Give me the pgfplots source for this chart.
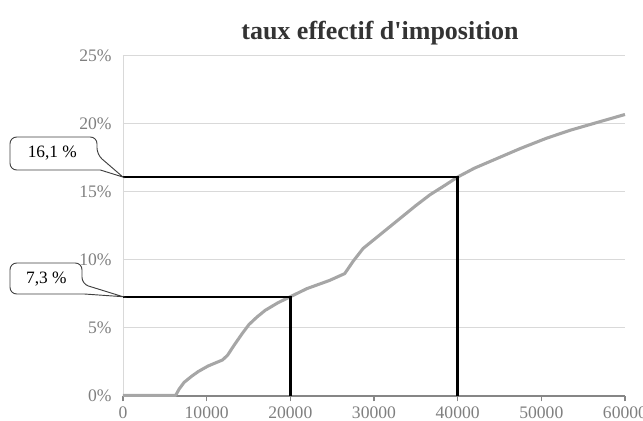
\documentclass[border=0pt]{standalone}
\usepackage{fontspec}
\setmainfont{Liberation Serif}
\usepackage{pgfplots}
\pgfplotsset{compat=1.18}
\definecolor{curvegray}{HTML}{A6A6A6}
\definecolor{gridgray}{HTML}{D9D9D9}
\definecolor{labgray}{HTML}{7F7F7F}
\definecolor{axgray}{HTML}{868686}
\definecolor{boxgray}{HTML}{404040}
\begin{document}
\begin{tikzpicture}
\useasboundingbox (-92.25pt,-18.75pt) rectangle (390pt,297pt);
\begin{axis}[
  scale only axis,
  width=376.5pt, height=255pt,
  xmin=0, xmax=60000, ymin=0, ymax=25,
  xtick={0,10000,...,60000},
  ytick={0,5,...,25},
  scaled x ticks=false,
  /pgf/number format/1000 sep={},
  /pgf/number format/assume math mode=true,
  yticklabel={\pgfmathprintnumber{\tick}\%},
  axis x line*=bottom,
  axis y line*=left,
  x axis line style={axgray, line width=0.8pt, -},
  y axis line style={gridgray, line width=0.6pt, -},
  ymajorgrids,
  grid style={gridgray, line width=0.75pt},
  tick align=outside,
  x tick style={axgray, line width=0.8pt},
  major tick length=4pt,
  y tick style={draw=none},
  tick label style={font=\fontsize{13.2}{15}\selectfont, text=labgray},
  xticklabel style={yshift=-0.5pt},
  yticklabel style={xshift=-1pt},
  clip=false,
]
\addplot[curvegray, line width=2.3pt, line join=round] coordinates {
(0,0.05)(6300,0.05)(6700,0.5)(7300,1.0)(8200,1.45)(9000,1.8)(10150,2.2)(11000,2.42)
(11900,2.65)(12500,3.0)(13300,3.75)(14200,4.55)(15050,5.25)(16000,5.8)(17000,6.3)
(18500,6.85)(20000,7.3)(22000,7.9)(24700,8.5)(26500,9.0)(27500,9.9)(28700,10.85)
(30000,11.5)(32700,12.85)(35000,14.0)(36700,14.8)(38500,15.5)(40000,16.1)(42000,16.75)
(44650,17.45)(47500,18.2)(50600,18.95)(53500,19.55)(56600,20.1)(60000,20.7)};
\addplot[black, line width=1.8pt, line join=miter] coordinates {(0,16.1)(40000,16.1)(40000,0)};
\addplot[black, line width=1.8pt, line join=miter] coordinates {(0,7.3)(20000,7.3)(20000,0)};
\node[font=\bfseries\fontsize{19.5}{22}\selectfont, text=black!80] at (rel axis cs:0.512,1) [yshift=17pt] {taux effectif d\textquotesingle imposition};
\end{axis}
% callout 1
\draw[boxgray, line width=0.7pt, fill=white, rounded corners=5pt]
  (-84.75pt,194.25pt) -- (-19.5pt,194.25pt) -- (-19.5pt,181pt) [sharp corners] -- (0pt,164.2pt)
  -- (-17pt,169.5pt) [rounded corners=5pt] -- (-84.75pt,169.5pt) -- cycle;
\node[font=\fontsize{13}{15}\selectfont] at (-53pt,182pt) {16,1 \%};
% callout 2
\draw[boxgray, line width=0.7pt, fill=white, rounded corners=5pt]
  (-84.75pt,99.75pt) -- (-30.75pt,99.75pt) -- (-30.75pt,84pt) [sharp corners] -- (0pt,74.46pt)
  -- (-29pt,76.5pt) [rounded corners=5pt] -- (-84.75pt,76.5pt) -- cycle;
\node[font=\fontsize{13}{15}\selectfont] at (-57.5pt,88pt) {7,3 \%};
\end{tikzpicture}
\end{document}
